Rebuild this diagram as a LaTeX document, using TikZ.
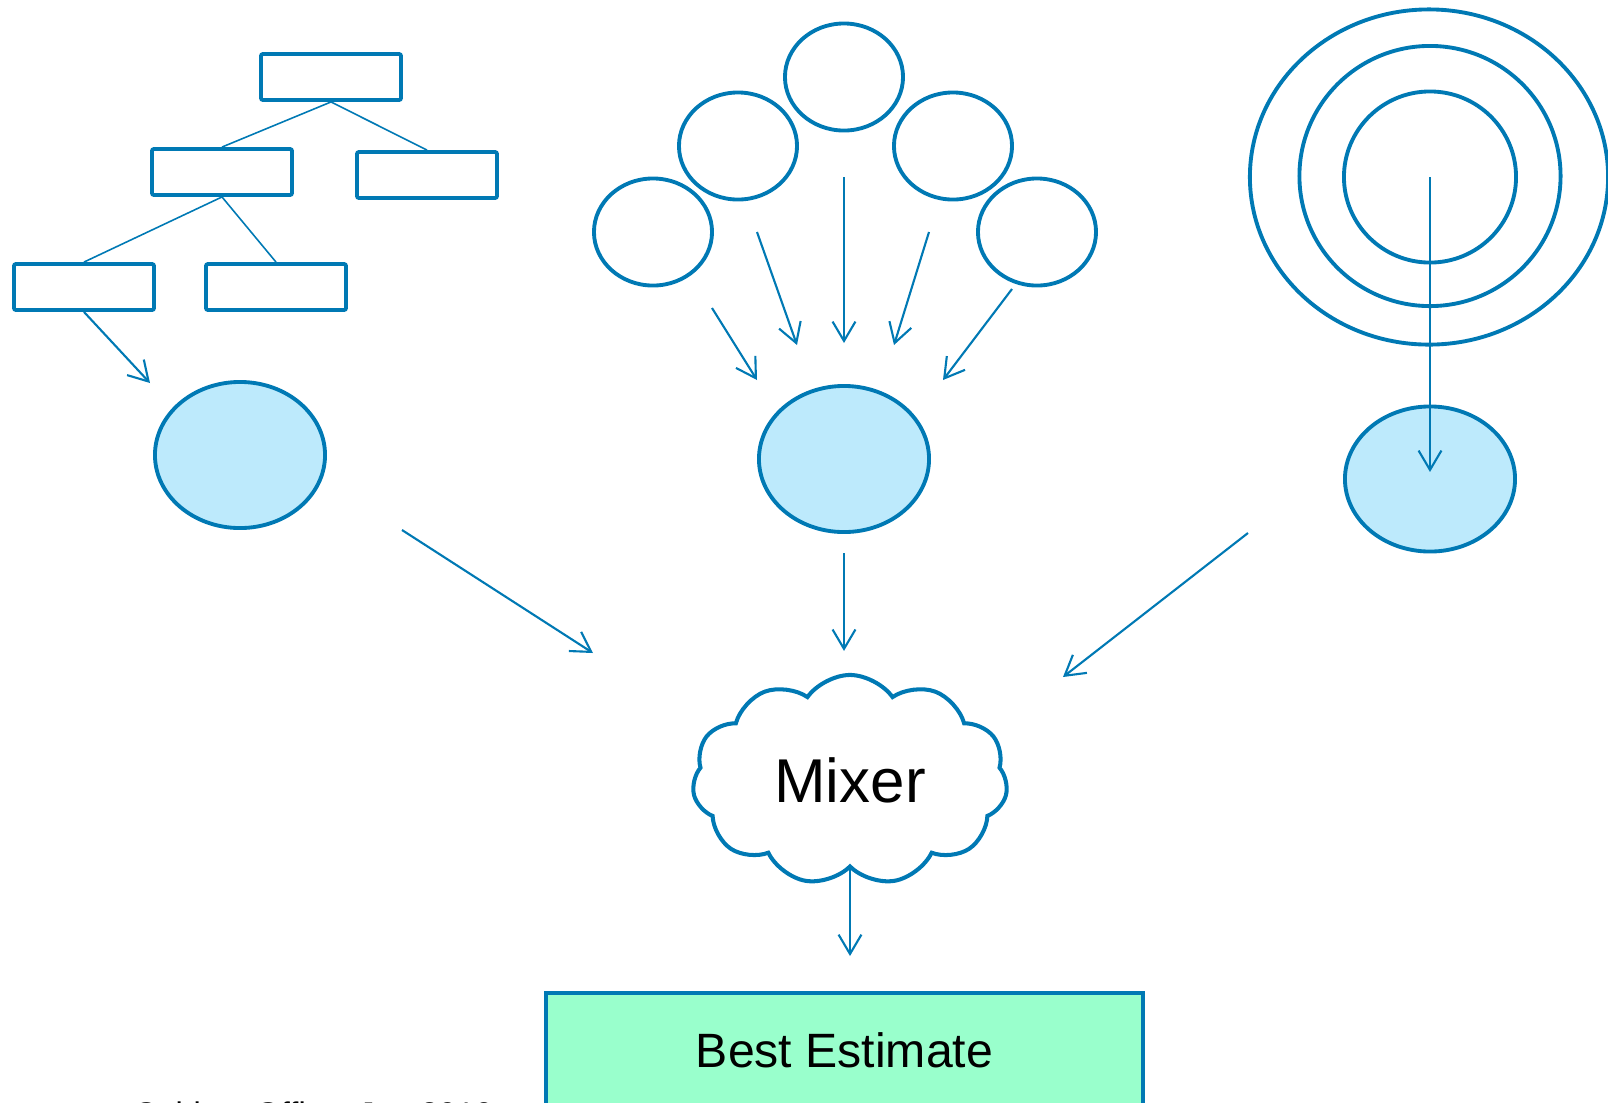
\documentclass[tikz,border=0pt]{standalone}
\usepackage{fontspec}
\setmainfont{Liberation Sans}
\usetikzlibrary{shapes.geometric,shapes.symbols,arrows.meta}
\definecolor{ppblue}{HTML}{0079B4}
\definecolor{ppfill}{HTML}{BDEAFC}
\definecolor{ppgreen}{HTML}{99FFCC}

\begin{document}
\begin{tikzpicture}[x=0.01cm,y=-0.01cm,
    box/.style={draw=ppblue,line width=1.1pt,rounded corners=0.6pt,minimum width=1.40cm,minimum height=0.46cm,inner sep=0pt},
    blob/.style={ellipse,draw=ppblue,line width=1.1pt,inner sep=0pt},
    est/.style={blob,fill=ppfill,minimum width=1.70cm,minimum height=1.46cm},
    link/.style={draw=ppblue,line width=0.45pt},
    arr/.style={draw=ppblue,line width=0.6pt,-{Straight Barb[length=5.5pt,width=6.5pt]}}]
    \useasboundingbox (0,0) rectangle (1608,1102);
    % tree of boxes
    \node[box] (t0) at (331,77) {};
    \node[box] (t1) at (222,172) {};
    \node[box] (t2) at (427,175) {};
    \node[box] (t3) at (84,287) {};
    \node[box] (t4) at (276,287) {};
    \draw[link] (t0.south) -- (t1.north);
    \draw[link] (t0.south) -- (t2.north);
    \draw[link] (t1.south) -- (t3.north);
    \draw[link] (t1.south) -- (t4.north);
    \node[est] (lest) at (240,455) {};
    \coordinate (lin) at (150,383);
    \draw[arr] (t3.south) -- (lin);
    % fan of ellipses
    \node[blob,minimum width=1.18cm,minimum height=1.07cm] (f1) at (653,232) {};
    \node[blob,minimum width=1.18cm,minimum height=1.07cm] (f2) at (738,146) {};
    \node[blob,minimum width=1.18cm,minimum height=1.07cm] (f3) at (844,77) {};
    \node[blob,minimum width=1.18cm,minimum height=1.07cm] (f4) at (953,146) {};
    \node[blob,minimum width=1.18cm,minimum height=1.07cm] (f5) at (1037,232) {};
    \node[est] (mest) at (844,459) {};
    \foreach \s/\e [count=\i] in {{712,308}/{757,380},{757,232}/{797,345},{844,177}/{844,343},{929,232}/{894,345},{1012,289}/{943,380}}{
      \coordinate (fs\i) at (\s);
      \coordinate (fe\i) at (\e);
      \draw[arr] (fs\i) -- (fe\i);
    }
    % target rings
    \node[blob,minimum width=3.58cm,minimum height=3.35cm] (r3) at (1429,177) {};
    \node[blob,minimum width=2.61cm,minimum height=2.60cm] (r2) at (1430,176) {};
    \node[blob,minimum width=1.72cm,minimum height=1.71cm] (r1) at (1430,177) {};
    \node[est,minimum height=1.45cm] (rest) at (1430,479) {};
    \draw[arr,shorten >=2pt] (r1.center) -- (rest.center);
    % mixer and result
    \node[cloud,draw=ppblue,line width=1.15pt,cloud puffs=11,cloud puff arc=110,cloud ignores aspect,
      minimum width=3.15cm,minimum height=2.1cm,inner sep=0pt,font=\fontsize{17.6}{20}\selectfont] (mix) at (850,780) {Mixer\hspace{0.15cm}};
    \coordinate (ls) at (402,530);
    \coordinate (le) at (593,653);
    \draw[arr] (ls) -- (le);
    \draw[arr,shorten <=0.19cm,shorten >=0.22cm] (mest.south) -- (mest.south |- mix.north);
    \coordinate (rs) at (1248,533);
    \coordinate (re) at (1063,677);
    \draw[arr] (rs) -- (re);
    \node[draw=ppblue,line width=1.1pt,fill=ppgreen,minimum width=5.97cm,minimum height=1.14cm,
      font=\fontsize{13.7}{16}\selectfont] (best) at (844.5,1050) {Best Estimate};
    \draw[arr,shorten >=0.35cm] (mix.south) -- (mix.south |- best.north);
    \node[anchor=base west,inner sep=0pt,font=\fontsize{9.3}{11}\selectfont] (src) at (133,1125.5) {Cabinet Office, Jan 2010};
\end{tikzpicture}
\end{document}
